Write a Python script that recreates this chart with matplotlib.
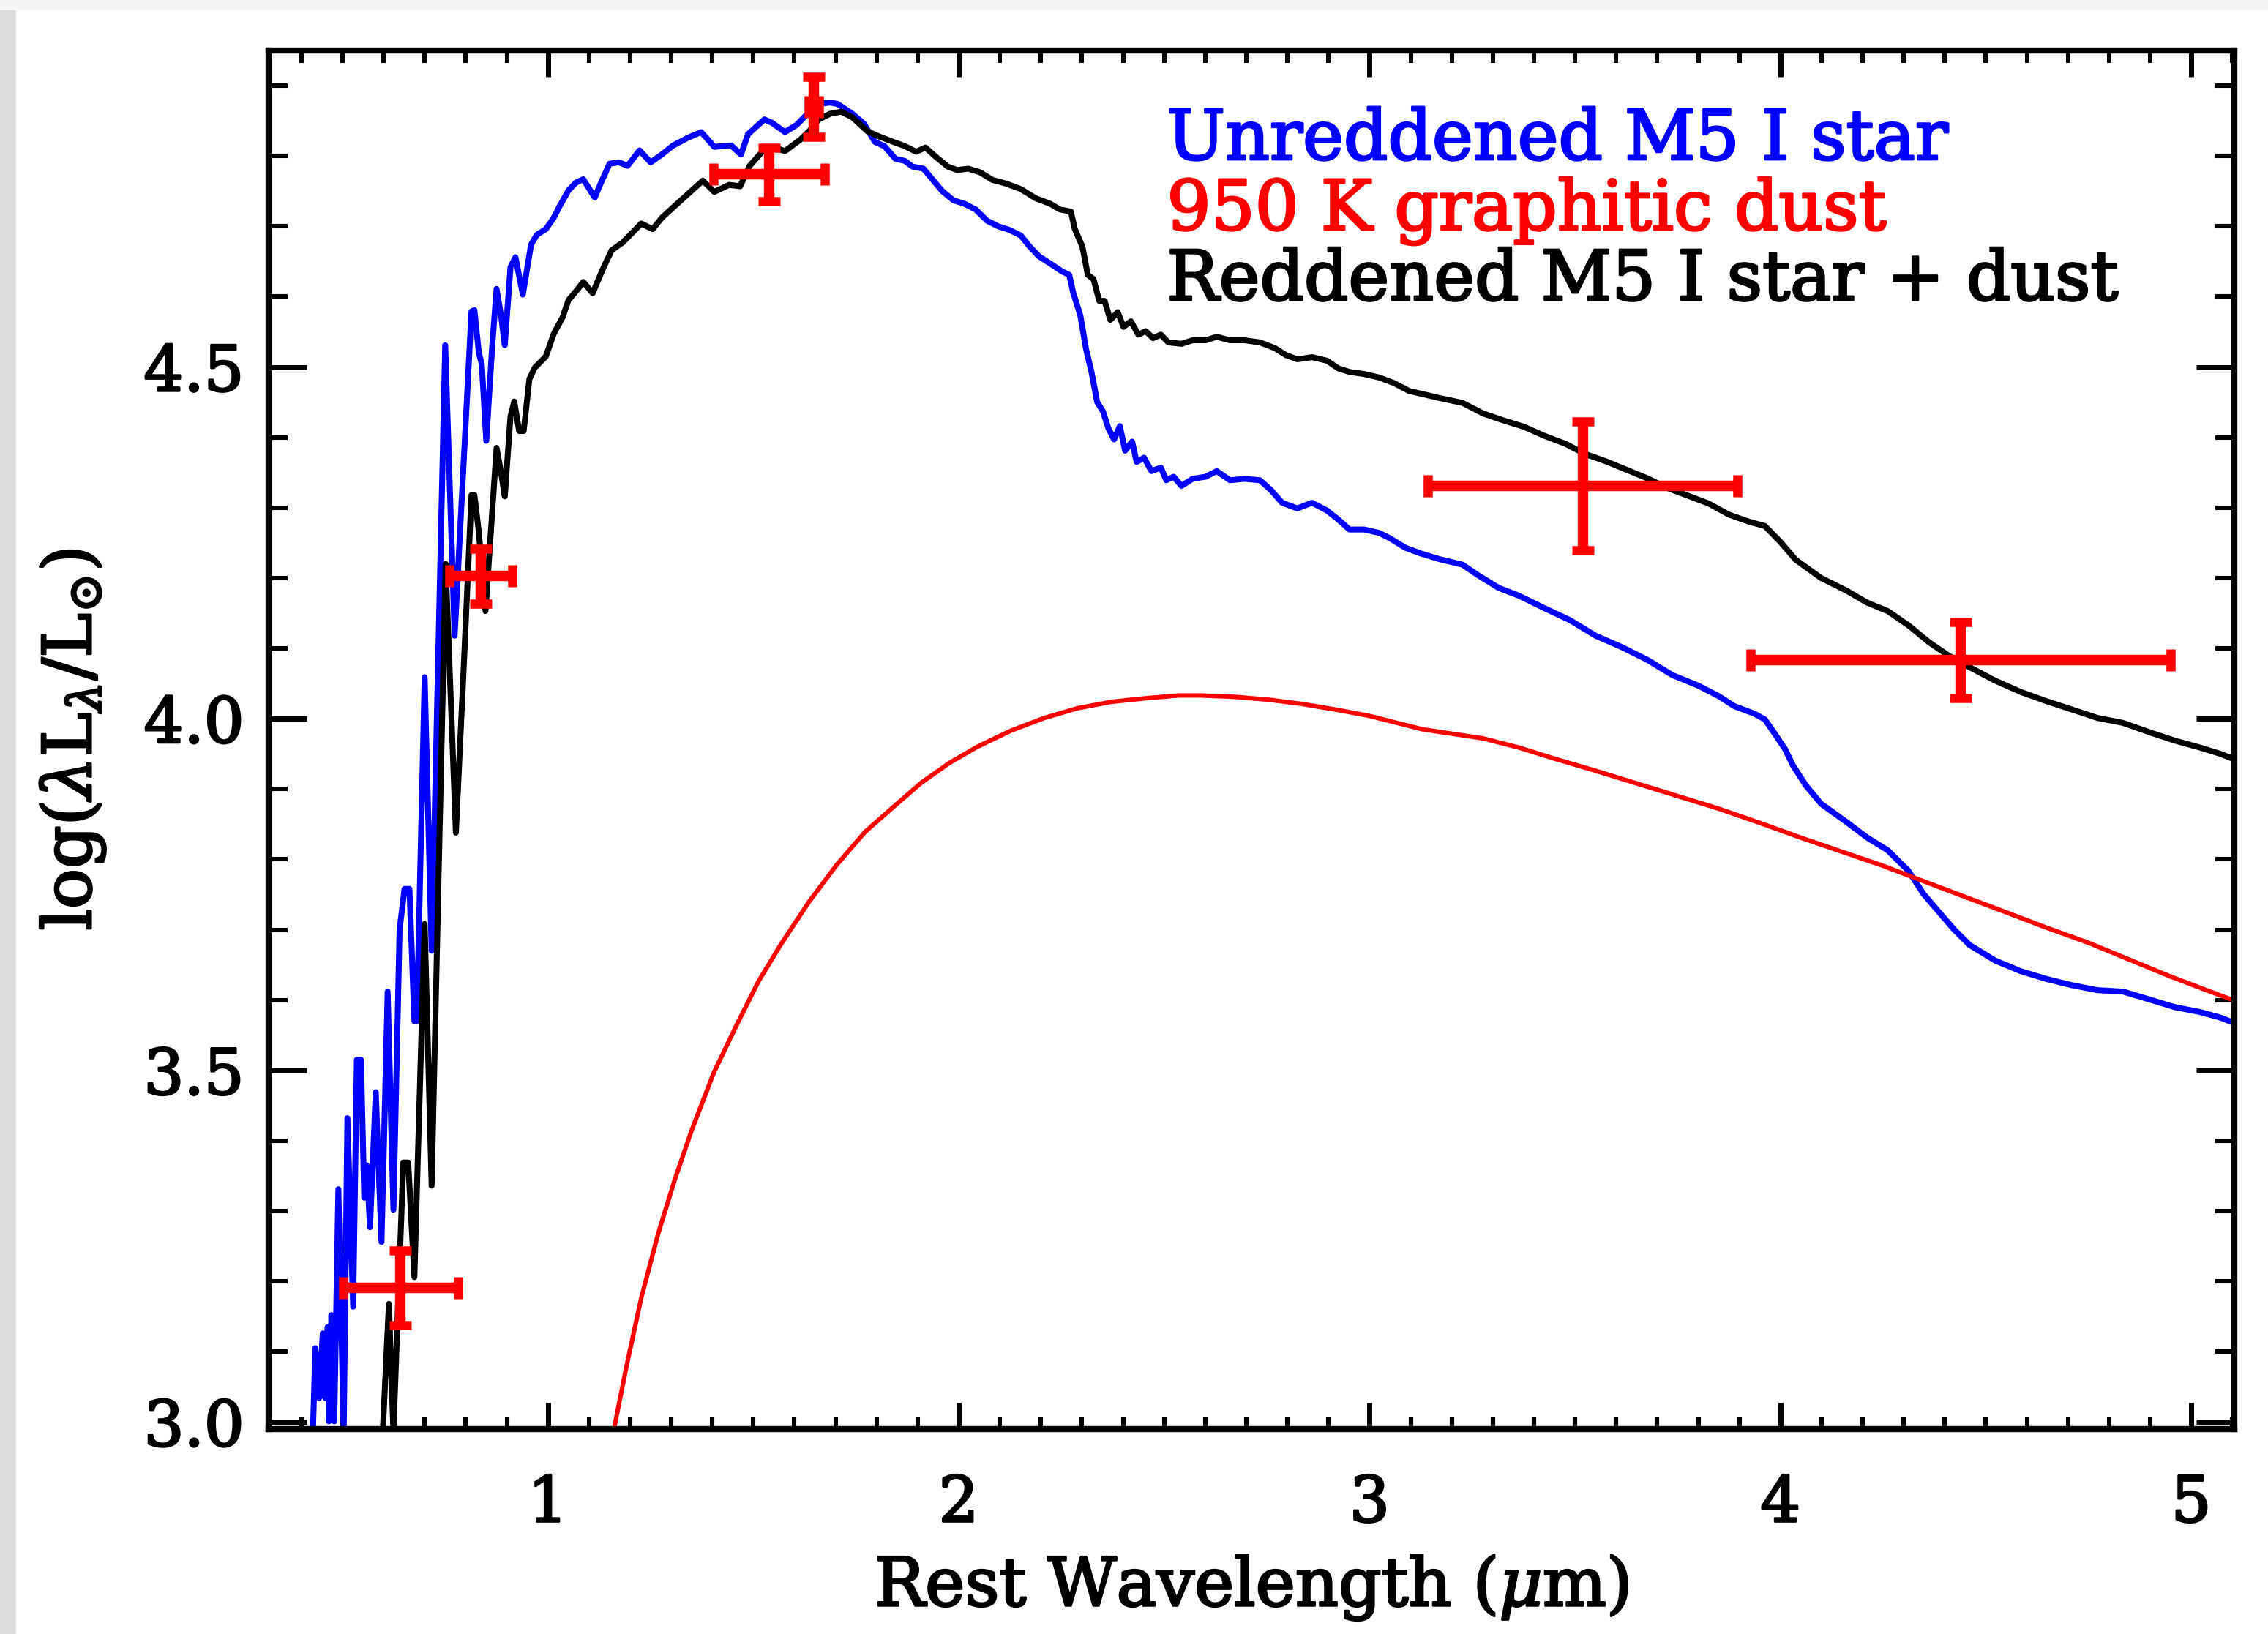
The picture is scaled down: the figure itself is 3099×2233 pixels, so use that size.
import numpy as np
import matplotlib
matplotlib.use("Agg")
import matplotlib.pyplot as plt
import matplotlib.patheffects as pe
from matplotlib.ticker import MultipleLocator
from matplotlib.patches import Rectangle

plt.rcParams['font.family'] = ['DejaVu Serif']
plt.rcParams['mathtext.fontset'] = 'dejavuserif'

# Unreddened M5 I star (blue)
lam_star = [0.428, 0.434, 0.443, 0.452, 0.458, 0.464, 0.467, 0.473, 0.480, 0.490,
            0.503, 0.512, 0.526, 0.535, 0.545, 0.553, 0.559, 0.567, 0.581, 0.595,
            0.610, 0.624, 0.639, 0.651, 0.663, 0.675, 0.681, 0.700, 0.717, 0.750,
            0.773, 0.814, 0.821, 0.832, 0.839, 0.850, 0.864, 0.875, 0.886, 0.895,
            0.909, 0.921, 0.939, 0.950, 0.959, 0.973, 0.995, 1.014, 1.027, 1.050,
            1.068, 1.086, 1.114, 1.127, 1.150, 1.173, 1.194, 1.223, 1.250, 1.277,
            1.305, 1.341, 1.373, 1.405, 1.446, 1.470, 1.487, 1.527, 1.546, 1.577,
            1.605, 1.632, 1.659, 1.687, 1.705, 1.741, 1.769, 1.796, 1.819, 1.846,
            1.869, 1.887, 1.914, 1.937, 1.960, 1.987, 2.014, 2.041, 2.069, 2.096,
            2.123, 2.151, 2.173, 2.196, 2.223, 2.251, 2.269, 2.278, 2.296, 2.310,
            2.323, 2.337, 2.351, 2.364, 2.378, 2.392, 2.405, 2.422, 2.433, 2.451,
            2.469, 2.492, 2.505, 2.523, 2.542, 2.569, 2.601, 2.628, 2.660, 2.696,
            2.733, 2.760, 2.787, 2.824, 2.860, 2.896, 2.924, 2.951, 2.987, 3.024,
            3.051, 3.087, 3.124, 3.169, 3.226, 3.264, 3.314, 3.363, 3.426, 3.488,
            3.550, 3.613, 3.675, 3.737, 3.800, 3.850, 3.887, 3.937, 3.962, 3.987,
            4.012, 4.030, 4.062, 4.099, 4.161, 4.211, 4.261, 4.311, 4.348, 4.386,
            4.423, 4.461, 4.523, 4.585, 4.647, 4.710, 4.772, 4.834, 4.897, 4.959,
            5.021, 5.071, 5.115]
logL_star = [2.985, 3.105, 3.034, 3.126, 3.034, 3.135, 3.001, 3.152, 3.001, 3.331,
             2.985, 3.432, 3.164, 3.515, 3.515, 3.319, 3.365, 3.277, 3.469, 3.256,
             3.612, 3.302, 3.700, 3.758, 3.758, 3.570, 3.570, 4.059, 3.670, 4.531,
             4.118, 4.579, 4.581, 4.520, 4.504, 4.395, 4.526, 4.611, 4.573, 4.531,
             4.642, 4.656, 4.603, 4.642, 4.674, 4.688, 4.696, 4.712, 4.727, 4.751,
             4.762, 4.767, 4.741, 4.759, 4.789, 4.791, 4.786, 4.808, 4.791, 4.802,
             4.815, 4.826, 4.834, 4.813, 4.815, 4.802, 4.831, 4.852, 4.847, 4.834,
             4.844, 4.860, 4.874, 4.876, 4.874, 4.860, 4.846, 4.820, 4.814, 4.796,
             4.793, 4.785, 4.782, 4.766, 4.750, 4.737, 4.732, 4.724, 4.708, 4.700,
             4.695, 4.687, 4.671, 4.657, 4.647, 4.636, 4.631, 4.607, 4.573, 4.525,
             4.493, 4.450, 4.437, 4.413, 4.397, 4.416, 4.381, 4.394, 4.365, 4.371,
             4.352, 4.357, 4.339, 4.344, 4.331, 4.341, 4.344, 4.352, 4.339, 4.341,
             4.339, 4.325, 4.307, 4.299, 4.307, 4.296, 4.283, 4.269, 4.269, 4.264,
             4.256, 4.243, 4.235, 4.227, 4.219, 4.204, 4.186, 4.175, 4.157, 4.140,
             4.118, 4.102, 4.084, 4.062, 4.047, 4.032, 4.018, 4.007, 3.999, 3.978,
             3.956, 3.934, 3.905, 3.879, 3.853, 3.831, 3.813, 3.784, 3.751, 3.725,
             3.700, 3.678, 3.656, 3.641, 3.630, 3.621, 3.614, 3.612, 3.601, 3.590,
             3.583, 3.575, 3.565]

# Reddened M5 I star + dust (black)
lam_red = [0.598, 0.613, 0.624, 0.648, 0.660, 0.675, 0.700, 0.717, 0.751, 0.776,
           0.794, 0.814, 0.821, 0.832, 0.848, 0.864, 0.875, 0.886, 0.895, 0.909,
           0.918, 0.930, 0.941, 0.955, 0.968, 0.995, 1.014, 1.036, 1.050, 1.073,
           1.086, 1.109, 1.132, 1.155, 1.182, 1.209, 1.227, 1.255, 1.277, 1.305,
           1.341, 1.377, 1.405, 1.441, 1.468, 1.491, 1.523, 1.546, 1.577, 1.614,
           1.637, 1.659, 1.687, 1.714, 1.741, 1.778, 1.805, 1.841, 1.869, 1.896,
           1.919, 1.946, 1.973, 1.996, 2.023, 2.051, 2.082, 2.114, 2.151, 2.187,
           2.223, 2.246, 2.273, 2.282, 2.301, 2.314, 2.328, 2.342, 2.355, 2.369,
           2.387, 2.401, 2.419, 2.437, 2.455, 2.473, 2.492, 2.510, 2.542, 2.569,
           2.601, 2.628, 2.660, 2.696, 2.733, 2.769, 2.796, 2.824, 2.860, 2.896,
           2.924, 2.951, 2.987, 3.024, 3.060, 3.096, 3.133, 3.169, 3.226, 3.276,
           3.326, 3.376, 3.426, 3.476, 3.526, 3.575, 3.625, 3.675, 3.725, 3.775,
           3.825, 3.875, 3.924, 3.962, 3.999, 4.037, 4.099, 4.161, 4.211, 4.261,
           4.311, 4.361, 4.411, 4.461, 4.523, 4.585, 4.647, 4.710, 4.772, 4.834,
           4.897, 4.959, 5.021, 5.071, 5.115]
logL_red = [2.985, 3.168, 2.985, 3.369, 3.369, 3.206, 3.708, 3.336, 4.220, 3.838,
            4.059, 4.318, 4.318, 4.265, 4.153, 4.291, 4.385, 4.350, 4.316, 4.430,
            4.451, 4.409, 4.409, 4.483, 4.499, 4.515, 4.547, 4.571, 4.595, 4.611,
            4.621, 4.605, 4.637, 4.666, 4.677, 4.693, 4.704, 4.696, 4.712, 4.727,
            4.746, 4.765, 4.749, 4.759, 4.757, 4.786, 4.807, 4.813, 4.807, 4.823,
            4.836, 4.852, 4.860, 4.863, 4.855, 4.835, 4.828, 4.820, 4.814, 4.806,
            4.812, 4.798, 4.785, 4.780, 4.782, 4.777, 4.766, 4.761, 4.753, 4.740,
            4.732, 4.724, 4.721, 4.697, 4.671, 4.631, 4.625, 4.594, 4.594, 4.567,
            4.578, 4.557, 4.565, 4.546, 4.551, 4.541, 4.546, 4.535, 4.533, 4.538,
            4.538, 4.543, 4.538, 4.538, 4.535, 4.527, 4.517, 4.511, 4.514, 4.509,
            4.498, 4.493, 4.490, 4.485, 4.477, 4.466, 4.461, 4.456, 4.449, 4.434,
            4.424, 4.415, 4.402, 4.391, 4.376, 4.366, 4.354, 4.342, 4.328, 4.317,
            4.306, 4.290, 4.280, 4.274, 4.252, 4.226, 4.200, 4.182, 4.165, 4.153,
            4.133, 4.109, 4.089, 4.073, 4.054, 4.038, 4.025, 4.013, 4.001, 3.994,
            3.981, 3.969, 3.959, 3.950, 3.940]

# 950 K graphitic dust (red)
lam_dust = [1.159, 1.193, 1.227, 1.268, 1.309, 1.350, 1.404, 1.459, 1.513, 1.568,
            1.636, 1.704, 1.772, 1.840, 1.909, 1.977, 2.045, 2.127, 2.208, 2.290,
            2.372, 2.454, 2.535, 2.590, 2.672, 2.754, 2.835, 2.917, 2.999, 3.067,
            3.128, 3.276, 3.363, 3.451, 3.550, 3.650, 3.750, 3.850, 3.949, 4.049,
            4.149, 4.249, 4.348, 4.448, 4.548, 4.647, 4.747, 4.847, 4.947, 5.046,
            5.115]
logL_dust = [2.985, 3.084, 3.176, 3.267, 3.345, 3.415, 3.497, 3.564, 3.627, 3.680,
             3.740, 3.793, 3.839, 3.874, 3.909, 3.937, 3.960, 3.983, 4.001, 4.015,
             4.024, 4.029, 4.033, 4.033, 4.031, 4.027, 4.021, 4.013, 4.004, 3.994,
             3.985, 3.972, 3.959, 3.943, 3.926, 3.908, 3.890, 3.872, 3.852, 3.831,
             3.811, 3.791, 3.769, 3.747, 3.725, 3.703, 3.682, 3.658, 3.634, 3.612,
             3.597]

# photometry with errors
obs_lam = [0.641, 0.837, 1.539, 1.647, 3.519, 4.438]
obs_logL = [3.191, 4.203, 4.774, 4.870, 4.331, 4.083]
obs_xerr = [0.140, 0.077, 0.135, 0.012, 0.377, 0.511]
obs_yerr = [0.053, 0.039, 0.038, 0.043, 0.092, 0.054]


def thick(color):
    # fake the heavy stroke of the original vector font
    return [pe.withStroke(linewidth=1.1, foreground=color)]


fig = plt.figure(figsize=(15.495, 11.165), dpi=200)
# grey screenshot border
fig.patches.append(Rectangle((0, 0), 20 / 3099, 1, transform=fig.transFigure,
                             color='#dcdcdc', zorder=0))
fig.patches.append(Rectangle((0, 1 - 12 / 2233), 1, 12 / 2233, transform=fig.transFigure,
                             color='#f5f5f5', zorder=0))

ax = fig.add_axes([0.1184, 0.1254, 0.8668, 0.8437])

ax.plot(lam_star, logL_star, color='#0000ff', lw=2.9)
ax.plot(lam_dust, logL_dust, color='#ff0000', lw=2.2)
ax.plot(lam_red, logL_red, color='black', lw=2.9)
ax.errorbar(obs_lam, obs_logL, xerr=obs_xerr, yerr=obs_yerr, fmt='none',
            ecolor='#ff0000', elinewidth=5.2, capsize=5.4, capthick=4.5, zorder=5)

ax.set_xlim(0.32, 5.105)
ax.set_ylim(2.99, 4.95)

ax.set_xticks([1, 2, 3, 4, 5])
ax.set_xticklabels(['1', '2', '3', '4', '5'])
ax.set_yticks([3.0, 3.5, 4.0, 4.5])
ax.set_yticklabels(['3.0', '3.5', '4.0', '4.5'])
ax.xaxis.set_minor_locator(MultipleLocator(0.1))
ax.yaxis.set_minor_locator(MultipleLocator(0.1))

ax.tick_params(axis='x', which='major', direction='in', length=13, width=2.5,
               top=True, bottom=True, labelsize=31, pad=22)
ax.tick_params(axis='x', which='minor', direction='in', length=6, width=2.2,
               top=True, bottom=True)
ax.tick_params(axis='y', which='major', direction='in', length=18.7, width=2.5,
               left=True, right=True, labelsize=31, pad=12)
ax.tick_params(axis='y', which='minor', direction='in', length=9.4, width=2.2,
               left=True, right=True)
for sp in ax.spines.values():
    sp.set_linewidth(3.0)
for lab in ax.get_xticklabels() + ax.get_yticklabels():
    lab.set_path_effects(thick('black'))

ax.set_xlabel(r'Rest Wavelength ($\mu$m)', fontsize=33, labelpad=9,
              path_effects=thick('black'))
ax.set_ylabel(r'log($\lambda$L$_{\lambda}$/L$_{\odot}$)', fontsize=33, labelpad=18,
              path_effects=thick('black'))

ax.text(0.457, 0.921, 'Unreddened M5 I star', color='#0000ff', fontsize=34,
        transform=ax.transAxes, va='baseline', path_effects=thick('#0000ff'))
ax.text(0.457, 0.870, '950 K graphitic dust', color='#ff0000', fontsize=34,
        transform=ax.transAxes, va='baseline', path_effects=thick('#ff0000'))
ax.text(0.457, 0.819, 'Reddened M5 I star + dust', color='black', fontsize=34,
        transform=ax.transAxes, va='baseline', path_effects=thick('black'))

fig.savefig('out.png', dpi=200)
